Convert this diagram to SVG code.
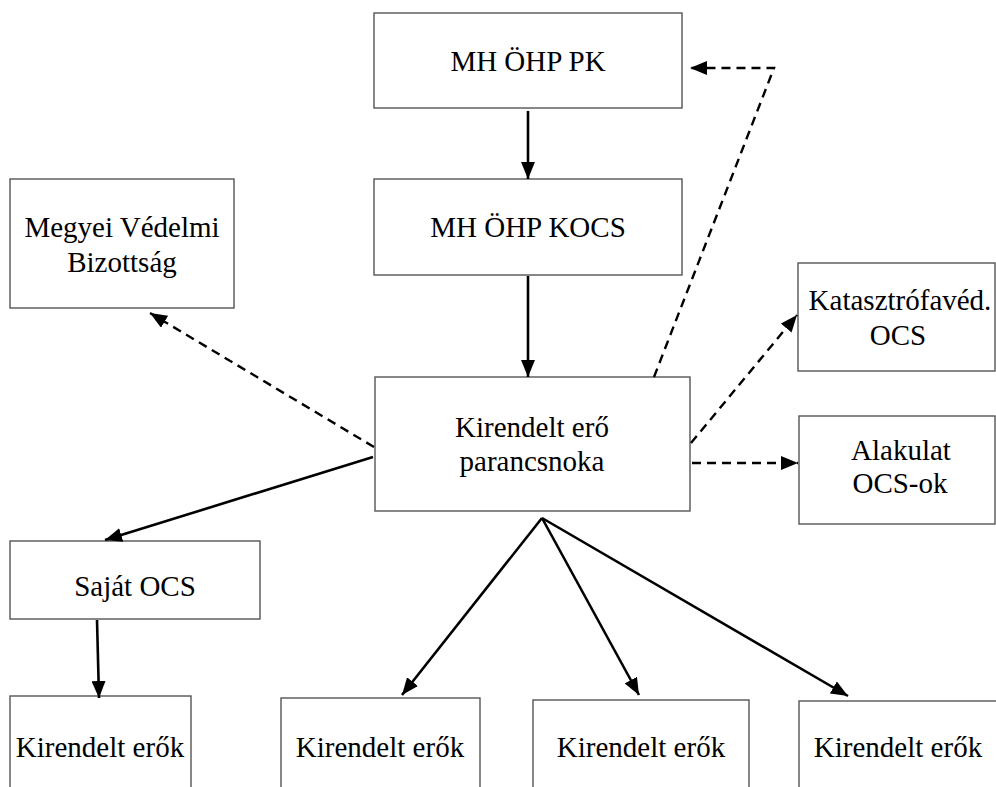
<svg xmlns="http://www.w3.org/2000/svg" width="996" height="787" viewBox="0 0 996 787">
<style>
.box{fill:#fff;stroke:#555;stroke-width:1.4}
.t{font-family:"Liberation Serif","Times New Roman",serif;font-size:29px;fill:#000;text-anchor:middle}
.c{fill:none;stroke:#000;stroke-width:2.6}
.d{fill:none;stroke:#000;stroke-width:2.4;stroke-dasharray:9 6}
</style>
<defs>
<marker id="ah" markerUnits="userSpaceOnUse" markerWidth="18" markerHeight="14" refX="17" refY="7" orient="auto">
<path d="M0,0 L17,7 L0,14 z" fill="#000"/>
</marker>
</defs>
<rect width="996" height="787" fill="#fff"/>
<g id="pk"><rect class="box" x="374" y="13" width="308" height="95"/><text class="t" x="528" y="71">MH ÖHP PK</text></g>
<g id="kocs"><rect class="box" x="374" y="179" width="308" height="96"/><text class="t" x="528" y="237">MH ÖHP KOCS</text></g>
<g id="mvb"><rect class="box" x="10" y="179" width="224" height="129"/><text class="t" x="122" y="237">Megyei Védelmi</text><text class="t" x="122" y="272">Bizottság</text></g>
<g id="kat"><rect class="box" x="798" y="263" width="197" height="108"/><text class="t" x="900" y="310">Katasztrófavéd.</text><text class="t" x="898" y="345">OCS</text></g>
<g id="ala"><rect class="box" x="799" y="416" width="196" height="108"/><text class="t" x="901" y="460">Alakulat</text><text class="t" x="900" y="493">OCS-ok</text></g>
<g id="kep"><rect class="box" x="375" y="377" width="315" height="134"/><text class="t" x="532" y="437">Kirendelt erő</text><text class="t" x="532" y="471">parancsnoka</text></g>
<g id="sajat"><rect class="box" x="10" y="541" width="250" height="78"/><text class="t" x="135" y="596">Saját OCS</text></g>
<g id="ke1"><rect class="box" x="10" y="696" width="181" height="100"/><text class="t" x="100" y="757">Kirendelt erők</text></g>
<g id="ke2"><rect class="box" x="281" y="698" width="199" height="100"/><text class="t" x="380" y="757">Kirendelt erők</text></g>
<g id="ke3"><rect class="box" x="533" y="700" width="216" height="100"/><text class="t" x="641" y="757">Kirendelt erők</text></g>
<g id="ke4"><rect class="box" x="799" y="701" width="200" height="100"/><text class="t" x="898" y="757">Kirendelt erők</text></g>
<g id="connectors">
<line class="c" x1="528" y1="111" x2="528" y2="179" stroke-width="2" marker-end="url(#ah)"/>
<line class="c" x1="528" y1="276" x2="528" y2="377" marker-end="url(#ah)"/>
<line class="c" x1="373" y1="457" x2="105" y2="540" marker-end="url(#ah)"/>
<line class="c" x1="97" y1="620" x2="99" y2="698" marker-end="url(#ah)"/>
<line class="c" x1="542" y1="518" x2="402" y2="695" marker-end="url(#ah)"/>
<line class="c" x1="542" y1="518" x2="639" y2="695" marker-end="url(#ah)"/>
<line class="c" x1="542" y1="518" x2="848" y2="696" marker-end="url(#ah)"/>
<line class="d" x1="374" y1="447" x2="150" y2="313" marker-end="url(#ah)"/>
<polyline class="d" points="654,377 774,68 690,68" marker-end="url(#ah)"/>
<line class="d" x1="691" y1="443" x2="797" y2="315" marker-end="url(#ah)"/>
<line class="d" x1="692" y1="463" x2="798" y2="463" marker-end="url(#ah)"/>
</g>
</svg>
